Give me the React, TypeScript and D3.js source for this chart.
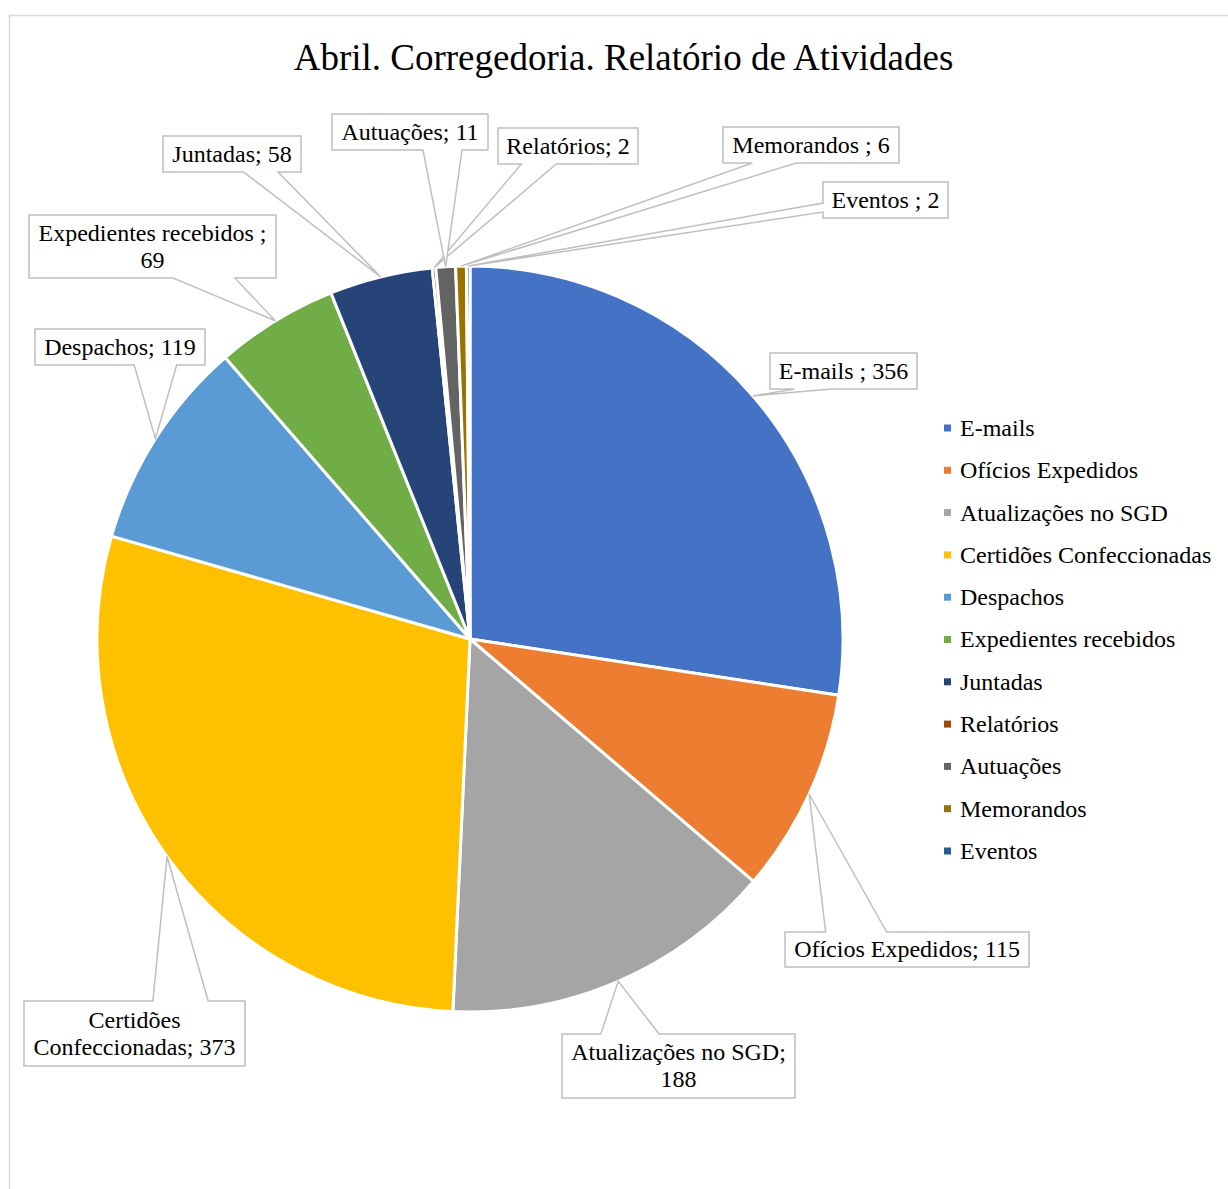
import React, { useEffect, useRef } from "react";
import * as d3 from "d3";

const categories = [
  "E-mails ",
  "Ofícios Expedidos",
  "Atualizações no SGD",
  "Certidões Confeccionadas",
  "Despachos",
  "Expedientes recebidos ",
  "Juntadas",
  "Relatórios",
  "Autuações",
  "Memorandos ",
  "Eventos ",
];

const values = [356, 115, 188, 373, 119, 69, 58, 2, 11, 6, 2];

const colors = [
  "#4472C4", "#ED7D31", "#A5A5A5", "#FFC000", "#5B9BD5", "#70AD47",
  "#264478", "#9E480E", "#636363", "#997300", "#255E91",
];

const title = "Abril. Corregedoria. Relatório de Atividades";

// callout boxes (layout only): top-left corner, size, words on first line
const callouts = [
  { x: 770, y: 353, w: 147, h: 36, wrap: 0 },
  { x: 785, y: 932, w: 244, h: 35, wrap: 0 },
  { x: 562, y: 1034, w: 233, h: 64, wrap: 3 },
  { x: 24, y: 1001, w: 221, h: 65, wrap: 1 },
  { x: 35, y: 329, w: 170, h: 36, wrap: 0 },
  { x: 29, y: 215, w: 247, h: 63, wrap: 3 },
  { x: 163, y: 136, w: 138, h: 36, wrap: 0 },
  { x: 498, y: 128, w: 140, h: 36, wrap: 0 },
  { x: 332, y: 114, w: 156, h: 36, wrap: 0 },
  { x: 723, y: 127, w: 176, h: 36, wrap: 0 },
  { x: 823, y: 182, w: 125, h: 36, wrap: 0 },
];

const W = 1228;
const H = 1189;
const cx = 470;
const cy = 639;
const radius = 373;
const font = "'Liberation Serif', 'Times New Roman', serif";

// rectangle with a wedge pointer toward (tx, ty), like a spreadsheet callout
function calloutPath(b, tx, ty) {
  const mx = b.x + b.w / 2;
  const my = b.y + b.h / 2;
  const dx = (tx - mx) / b.w;
  const dy = (ty - my) / b.h;
  const inside = Math.abs(dx) <= 0.5 && Math.abs(dy) <= 0.5;
  const p = d3.path();
  const x0 = b.x, x1 = b.x + b.w, y0 = b.y, y1 = b.y + b.h;
  p.moveTo(x0, y0);
  if (!inside && Math.abs(dy) >= Math.abs(dx) && dy < 0) {
    const [a, c] = dx < 0 ? [1 / 6, 5 / 12] : [7 / 12, 5 / 6];
    p.lineTo(x0 + b.w * a, y0);
    p.lineTo(tx, ty);
    p.lineTo(x0 + b.w * c, y0);
  }
  p.lineTo(x1, y0);
  if (!inside && Math.abs(dx) > Math.abs(dy) && dx > 0) {
    const [a, c] = dy < 0 ? [1 / 6, 5 / 12] : [7 / 12, 5 / 6];
    p.lineTo(x1, y0 + b.h * a);
    p.lineTo(tx, ty);
    p.lineTo(x1, y0 + b.h * c);
  }
  p.lineTo(x1, y1);
  if (!inside && Math.abs(dy) >= Math.abs(dx) && dy > 0) {
    const [a, c] = dx < 0 ? [1 / 6, 5 / 12] : [7 / 12, 5 / 6];
    p.lineTo(x0 + b.w * c, y1);
    p.lineTo(tx, ty);
    p.lineTo(x0 + b.w * a, y1);
  }
  p.lineTo(x0, y1);
  if (!inside && Math.abs(dx) > Math.abs(dy) && dx < 0) {
    const [a, c] = dy < 0 ? [1 / 6, 5 / 12] : [7 / 12, 5 / 6];
    p.lineTo(x0, y0 + b.h * c);
    p.lineTo(tx, ty);
    p.lineTo(x0, y0 + b.h * a);
  }
  p.closePath();
  return p.toString();
}

export default function App() {
  const ref = useRef(null);

  useEffect(() => {
    const svg = d3.select(ref.current);
    svg.selectAll("*").remove();

    svg.append("rect")
      .attr("x", 9.5).attr("y", 15.5)
      .attr("width", W + 20).attr("height", H + 20)
      .attr("fill", "white")
      .attr("stroke", "#D9D9D9")
      .attr("stroke-width", 1.5);

    svg.append("text")
      .attr("x", 623.5).attr("y", 70)
      .attr("text-anchor", "middle")
      .attr("font-family", font)
      .attr("font-size", 37)
      .attr("fill", "#000")
      .text(title);

    const data = categories.map((c, i) => ({ name: c, value: values[i], i }));
    const pie = d3.pie().value((d) => d.value).sort(null);
    const arcs = pie(data);
    const arc = d3.arc().innerRadius(0).outerRadius(radius);

    const g = svg.append("g").attr("transform", `translate(${cx},${cy})`);
    g.selectAll("path")
      .data(arcs)
      .join("path")
      .attr("d", arc)
      .attr("fill", (d) => colors[d.data.i])
      .attr("stroke", "white")
      .attr("stroke-width", 3)
      .attr("stroke-linejoin", "round");

    // callouts
    const lab = svg.append("g");
    arcs.forEach((a, i) => {
      const b = callouts[i];
      const mid = (a.startAngle + a.endAngle) / 2;
      const tx = cx + radius * Math.sin(mid);
      const ty = cy - radius * Math.cos(mid);
      lab.append("path")
        .attr("d", calloutPath(b, tx, ty))
        .attr("fill", "white")
        .attr("stroke", "#BFBFBF")
        .attr("stroke-width", 1.5);
    });
    arcs.forEach((a, i) => {
      const b = callouts[i];
      const full = `${a.data.name}; ${a.data.value}`;
      const words = full.split(" ");
      const lines = b.wrap ? [words.slice(0, b.wrap).join(" "), words.slice(b.wrap).join(" ")] : [full];
      const t = lab.append("text")
        .attr("text-anchor", "middle")
        .attr("font-family", font)
        .attr("font-size", 24)
        .attr("fill", "#000");
      const lh = 27;
      const top = b.y + b.h / 2 - ((lines.length - 1) * lh) / 2;
      lines.forEach((l, k) => {
        t.append("tspan")
          .attr("x", b.x + b.w / 2)
          .attr("y", top + k * lh)
          .attr("dy", "0.33em")
          .text(l);
      });
    });

    // legend
    const leg = svg.append("g");
    categories.forEach((c, i) => {
      const y = 428 + i * 42.3;
      leg.append("rect")
        .attr("x", 944).attr("y", y - 3.5)
        .attr("width", 7).attr("height", 7)
        .attr("fill", colors[i]);
      leg.append("text")
        .attr("x", 960).attr("y", y)
        .attr("dy", "0.33em")
        .attr("font-family", font)
        .attr("font-size", 24)
        .attr("fill", "#000")
        .text(c.trim());
    });
  }, []);

  return (
    <svg
      ref={ref}
      width={W}
      height={H}
      style={{ position: "absolute", left: 0, top: 0 }}
    />
  );
}
